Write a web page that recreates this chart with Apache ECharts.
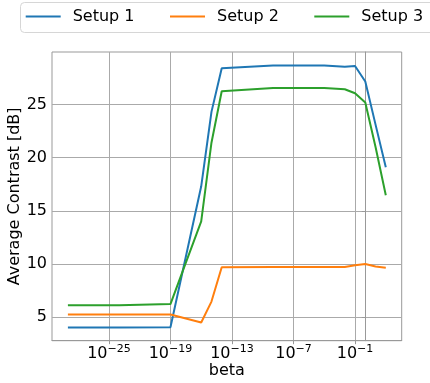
<!DOCTYPE html>
<html><head><meta charset="utf-8">
<script src="https://cdn.jsdelivr.net/npm/echarts@6/dist/echarts.min.js"></script>
<style>html,body{margin:0;padding:0;background:#fff}#c{width:430px;height:383px}</style>
</head><body><div id="c"></div>
<script>
// log10(beta) positions
const betaExp = [-29, -24, -19, -16, -15, -14, -9, -4, -2, -1, 0, 1, 2];
const setup1 = [4.03, 4.03, 4.05, 17.3, 24.3, 28.4, 28.67, 28.67, 28.55, 28.62, 27.15, 23.1, 19.1];
const setup2 = [5.25, 5.25, 5.25, 4.49, 6.46, 9.69, 9.7, 9.7, 9.72, 9.87, 10.0, 9.75, 9.65];
const setup3 = [6.12, 6.12, 6.22, 14.0, 21.4, 26.24, 26.55, 26.55, 26.43, 26.05, 25.18, 21.0, 16.46];
const xTicks = [-25, -19, -13, -7, -1];
const yTicks = [5, 10, 15, 20, 25];
const names = ['Setup 1', 'Setup 2', 'Setup 3'];
const colors = ['#1f77b4', '#ff7f0e', '#2ca02c'];

const font = 'DejaVu Sans';
const chart = echarts.init(document.getElementById('c'), null, {renderer: 'canvas'});
const pair = arr => betaExp.map((x, i) => [x, arr[i]]);
const legendLefts = [25.7, 170, 314.3];
chart.setOption({
  animation: false,
  backgroundColor: '#fff',
  graphic: [{type: 'rect', shape: {x: 20.5, y: 2.5, width: 430, height: 30, r: 4},
    style: {fill: '#fff', stroke: '#d6d6d6', lineWidth: 1}, z: 0}],
  legend: names.map((n, i) => ({
    data: [n], left: legendLefts[i], top: 6.5, padding: 0,
    icon: 'rect', itemWidth: 35, itemHeight: 2,
    textStyle: {fontFamily: font, fontSize: 16, color: '#000', lineHeight: 20, padding: [0, 0, 0, 7]},
    z: 5
  })),
  grid: {left: 52, right: 28.3, top: 52, bottom: 42.3, show: true, borderColor: '#999', borderWidth: 1,
    containLabel: false, outerBoundsMode: 'none'},
  xAxis: {
    type: 'value', min: -30.55, max: 3.55,
    name: 'beta', nameLocation: 'middle', nameGap: 22, nameMoveOverlap: false,
    nameTextStyle: {fontFamily: font, fontSize: 16, color: '#000', verticalAlign: 'top'},
    axisLine: {show: true, lineStyle: {color: '#999'}},
    axisTick: {show: true, customValues: xTicks, length: 3.5, lineStyle: {color: '#999'}},
    axisLabel: {
      customValues: xTicks, margin: 3,
      formatter: v => '{b|10}{s|\u2212' + Math.abs(v) + '}',
      rich: {
        b: {fontFamily: font, fontSize: 16, color: '#000', lineHeight: 18, verticalAlign: 'bottom'},
        s: {fontFamily: font, fontSize: 11, color: '#000', lineHeight: 12, verticalAlign: 'top'}
      }
    },
    splitLine: {show: true, lineStyle: {color: '#aaaaaa', width: 1}}
  },
  yAxis: {
    type: 'value', min: 2.78, max: 29.93,
    name: 'Average Contrast [dB]', nameLocation: 'middle', nameGap: 29, nameMoveOverlap: false,
    nameTextStyle: {fontFamily: font, fontSize: 16, color: '#000'},
    axisLine: {show: true, lineStyle: {color: '#999'}},
    axisTick: {show: true, customValues: yTicks, length: 3.5, lineStyle: {color: '#999'}},
    axisLabel: {customValues: yTicks, margin: 5, fontFamily: font, fontSize: 16, color: '#000'},
    splitLine: {show: true, lineStyle: {color: '#aaaaaa', width: 1}}
  },
  series: [setup1, setup2, setup3].map((d, i) => ({
    name: names[i], type: 'line', data: pair(d), showSymbol: false, symbol: 'none',
    color: colors[i], lineStyle: {width: 2, color: colors[i]}, z: 3
  }))
});
</script></body></html>
